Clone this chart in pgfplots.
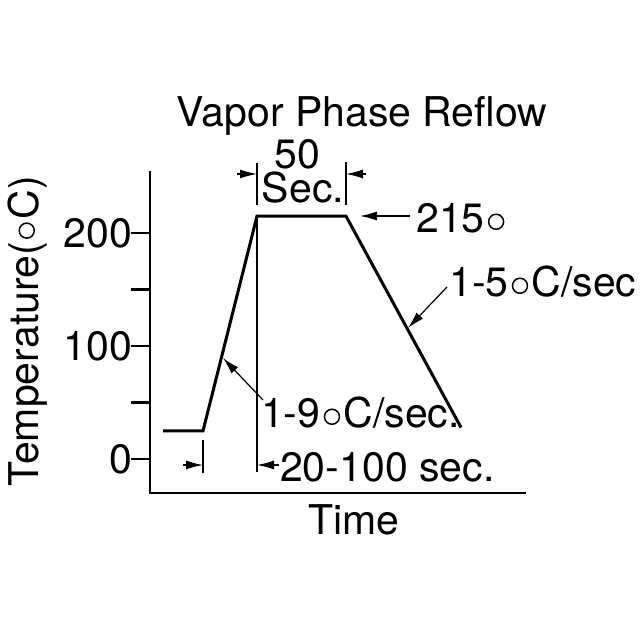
\documentclass[border=0pt]{standalone}
\usepackage{pgfplots}
\pgfplotsset{compat=1.18}
\usepackage{fontspec}
\setmainfont{TeX Gyre Heros}
\usetikzlibrary{arrows.meta}
\newsavebox\dgbox
\newcommand\dg{\hspace{0.08em}\usebox\dgbox\hspace{0.08em}}
\begin{document}
\sbox\dgbox{\raisebox{3pt}{\tikz \draw[line width=1.5pt] (0,0) circle (7.5pt);}}%
\fontsize{41}{47}\selectfont
\begin{tikzpicture}
\path[use as bounding box] (0,0) rectangle (640pt,640pt);
\begin{axis}[
  at={(150pt,147pt)}, anchor=south west,
  scale only axis, width=375pt, height=321pt,
  xmin=150, xmax=525, ymin=-30, ymax=254.07,
  axis x line=bottom, axis y line=left,
  axis line style={-, line width=2.2pt, line cap=rect},
  xtick=\empty,
  ytick={0,50,100,150,200}, yticklabels={0,,100,,200},
  tick align=outside, major tick length=19pt,
  tick style={line width=2.2pt, black},
  /pgf/number format/assume math mode=true,
  yticklabel style={font=\fontsize{41}{47}\selectfont, inner sep=0pt, xshift=1pt},
  clip=false,
]
\addplot[line width=3pt, black, line join=miter, mark=none] coordinates {(163,25) (203,25) (257,215) (346,215) (461,28)};
\end{axis}
\begin{scope}[x=1pt, y=-1pt, shift={(0pt,640pt)}, >={Latex[length=17pt,width=9pt]}]
\node[anchor=base, inner sep=0pt] at (362,127) {Vapor Phase Reflow};
\node[anchor=base, inner sep=0pt] at (354,535) {Time};
\node[anchor=base, rotate=90, inner sep=0pt] at (38,331) {Temperature(\dg C)};
\draw[line width=1.2pt] (257,217) -- (257,472);
\draw[line width=1.2pt] (203,440) -- (203,473);
\draw[line width=1.2pt] (257,163) -- (257,205);
\draw[line width=1.2pt] (346,162) -- (346,205);
\draw[->, line width=1.2pt] (183,465) -- (203,465);
\draw[->, line width=1.2pt] (279,465) -- (257,465);
\draw[->, line width=1.2pt] (237,174) -- (257,174);
\draw[->, line width=1.2pt] (366,174) -- (346,174);
\draw[->, line width=1.2pt] (410,216) -- (360,216);
\draw[->, line width=1.2pt] (447,287) -- (408,328);
\draw[->, line width=1.2pt] (263,400) -- (223,358);
\node[anchor=base, inner sep=0pt] at (297,169) {50};
\node[anchor=base, inner sep=0pt] at (303,203) {Sec.};
\node[anchor=base west, inner sep=0pt] at (416,233) {215\dg};
\node[anchor=base west, inner sep=0pt] at (449,297) {1-5\dg C/sec};
\node[anchor=base west, inner sep=0pt] at (261,428) {1-9\dg C/sec.};
\node[anchor=base west, inner sep=0pt] at (280,482) {20-100 sec.};
\end{scope}
\end{tikzpicture}
\end{document}
